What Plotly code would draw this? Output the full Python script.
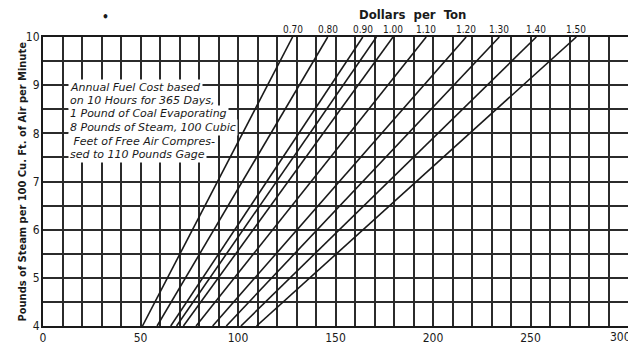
import plotly.graph_objects as go

# ---- data ----
price_labels = ["0.70", "0.80", "0.90", "", "1.00", "1.10", "1.20", "1.30", "1.40", "1.50"]
cost_at_low_steam = [51, 58.5, 65.5, 68.5, 72, 78.5, 87, 94, 101.5, 109.5]   # x where line meets y=4
cost_at_high_steam = [128, 146, 164, 171, 179.5, 196.5, 217, 234, 253, 273.5]  # x where line meets y=10
steam_low, steam_high = 4, 10
x_tick_vals = [0, 50, 100, 150, 200, 250, 300]
x_tick_text = ["0", "50", "100", "150", "200", "250", "300"]
y_tick_vals = [4, 5, 6, 7, 8, 9, 10]

note_lines = ["Annual Fuel Cost based", "on 10 Hours for 365 Days,", "1 Pound of Coal Evaporating",
              "8 Pounds of Steam, 100 Cubic", " Feet of Free Air Compres-", "sed to 110 Pounds Gage"]

FONT = "DejaVu Sans Condensed, Liberation Sans Narrow, sans-serif"
NOTE_FONT = "DejaVu Sans, sans-serif"
INK = "#1a1a1a"
GRID = "#2b2b2b"

# page has an 8px body margin, so the figure starts at (8, 8) on screen
OFF = 8
W, H = 636 - OFF, 345 - OFF
PL, PR, PT, PB = 43, 628, 37, 326          # plot-area edges in screen pixels
L, R, T, B = PL - OFF, W + OFF - PR, PT - OFF, H + OFF - PB
PW, PH = PR - PL, PB - PT


def py(pix):  # paper y from screen pixel row
    return (PB - pix) / PH


def px(pix):  # paper x from screen pixel column
    return (pix - PL) / PW


fig = go.Figure()
for lab, x0, x1 in zip(price_labels, cost_at_low_steam, cost_at_high_steam):
    fig.add_trace(go.Scatter(x=[x0, x1], y=[steam_low, steam_high], mode="lines",
                             line=dict(color=INK, width=1.6), showlegend=False,
                             hoverinfo="skip"))
    if lab:
        fig.add_annotation(x=x1, y=steam_high, text=lab, showarrow=False,
                           yanchor="bottom", yshift=0, xshift=0,
                           font=dict(family=FONT, size=10, color=INK))

# note block, one annotation per line for tight line spacing
note_rows = [87, 100.5, 114, 127.5, 141, 154.5]
for txt, row in zip(note_lines, note_rows):
    fig.add_annotation(xref="paper", yref="paper", x=px(68), y=py(row), xanchor="left",
                       yanchor="middle", text="<i>" + txt + "</i>", showarrow=False,
                       bgcolor="white", borderpad=1,
                       font=dict(family=NOTE_FONT, size=11, color=INK))

x_tick_show = [t if v != 300 else "" for v, t in zip(x_tick_vals, x_tick_text)]
fig.add_annotation(xref="paper", yref="paper", x=1.0, y=py(337), xanchor="right", xshift=5,
                   yanchor="middle", text=x_tick_text[-1], showarrow=False,
                   font=dict(family=FONT, size=12, color=INK))

fig.add_annotation(xref="paper", yref="paper", x=px(412), y=py(15), yanchor="middle",
                   text="<b>Dollars  per  Ton</b>", showarrow=False,
                   font=dict(family=FONT, size=13, color=INK))
fig.add_annotation(xref="paper", yref="paper", x=px(13), y=py(182), textangle=-90,
                   text="<b>Pounds of Steam per 100 Cu. Ft. of Air per Minute</b>",
                   showarrow=False, font=dict(family=FONT, size=11, color=INK))
fig.add_annotation(xref="paper", yref="paper", x=px(100), y=py(17), yanchor="middle",
                   text="<b>•</b>", showarrow=False, font=dict(family=FONT, size=12, color=INK))

fig.update_xaxes(range=[0, 300], tickmode="array", tickvals=x_tick_vals, ticktext=x_tick_show,
                 showgrid=True, gridcolor=GRID, gridwidth=1.6, automargin=False,
                 minor=dict(dtick=10, tick0=0, showgrid=True, gridcolor=GRID, gridwidth=1.6),
                 showline=True, linecolor=INK, linewidth=2, mirror=True, zeroline=False,
                 ticks="", tickfont=dict(family=FONT, size=12, color=INK))
fig.update_yaxes(range=[4, 10], tickmode="array", tickvals=y_tick_vals,
                 showgrid=True, gridcolor=GRID, gridwidth=1.6, automargin=False,
                 ticklabelstandoff=-1,
                 minor=dict(dtick=0.5, tick0=4, showgrid=True, gridcolor=GRID, gridwidth=1.6),
                 showline=True, linecolor=INK, linewidth=2, mirror=True, zeroline=False,
                 ticks="", tickfont=dict(family=FONT, size=12, color=INK))

fig.update_layout(width=W, height=H, margin=dict(l=L, r=R, t=T, b=B, autoexpand=False),
                  paper_bgcolor="white", plot_bgcolor="white", showlegend=False)

fig.write_html("out.html")
